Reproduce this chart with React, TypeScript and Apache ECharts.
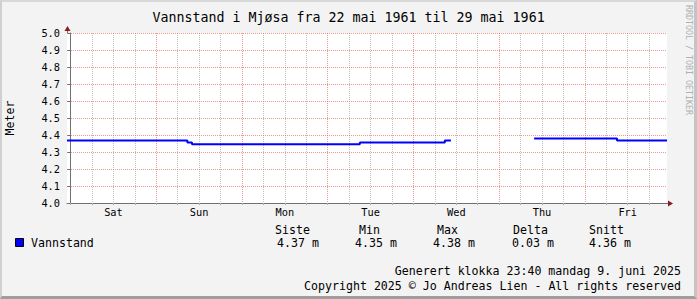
import React, { useEffect, useRef } from "react";
import * as echarts from "echarts";

// ---------- data ----------
const chartTitle = "Vannstand i Mjøsa fra 22 mai 1961 til 29 mai 1961";
const seriesName = "Vannstand";
const yAxisName = "Meter";
// corner points of the stepped water level, hours relative to the first midnight shown; null marks the data gap
const sampleHours = [-1, 32.7, 32.7, 34.0, 34.0, 81.0, 81.0, 104.8, 104.8, 106.5, 118, 129.8, 153.0, 153.0, 167];
const sampleLevels = [4.368, 4.368, 4.356, 4.356, 4.345, 4.345, 4.356, 4.356, 4.368, 4.368, null, 4.38, 4.38, 4.368, 4.368];
const dayLabels = ["Sat", "Sun", "Mon", "Tue", "Wed", "Thu", "Fri"];
const dayLabelHours = [12, 36, 60, 84, 108, 132, 156];
const tickHours = [0, 6, 12, 18, 24, 30, 36, 42, 48, 54, 60, 66, 72, 78, 84, 90, 96, 102, 108, 114, 120, 126, 132, 138, 144, 150, 156, 162];
const statHeaders = ["Siste", "Min", "Max", "Delta", "Snitt"];
const statValues = [4.37, 4.35, 4.38, 0.03, 4.36];
const statUnit = "m";
const footerLines = [
  "Generert klokka 23:40 mandag 9. juni 2025",
  "Copyright 2025 © Jo Andreas Lien - All rights reserved",
];
const watermark = "RRDTOOL / TOBI OETIKER";

// ---------- style ----------
const FONT = '"DejaVu Sans Mono", monospace';
const MAJOR = "rgba(230,80,80,0.6)";
const MINOR = "rgba(140,140,140,0.55)";
const AXIS = "#707070";
const ARROW = "#8b1c1c";

const GL = 67, GT = 33, GW = 600, GH = 170;

export default function App() {
  const ref = useRef<HTMLDivElement>(null);
  useEffect(() => {
    if (!ref.current) return;
    const chart = echarts.init(ref.current, null, { renderer: "svg" });
    const statHX = [275, 359, 437, 513, 589];
    const statVX = [277, 355, 433, 512, 589];
    const graphic: any[] = [
      { type: "line", shape: { x1: GL + 0.5, y1: GT, x2: GL + 0.5, y2: GT - 4 }, style: { stroke: AXIS, lineWidth: 1 } },
      { type: "line", shape: { x1: GL + GW, y1: GT + GH + 0.5, x2: GL + GW + 3, y2: GT + GH + 0.5 }, style: { stroke: AXIS, lineWidth: 1 } },
      { type: "polygon", shape: { points: [[GL - 2.5, GT - 2], [GL + 0.5, GT - 7], [GL + 3.5, GT - 2]] }, style: { fill: ARROW } },
      { type: "polygon", shape: { points: [[GL + GW + 1, GT + GH - 2.5], [GL + GW + 6, GT + GH + 0.5], [GL + GW + 1, GT + GH + 3.5]] }, style: { fill: ARROW } },
      {
        type: "text", x: 688.5, y: 60, rotation: -Math.PI / 2,
        style: { text: watermark, fill: "#b0b0b0", font: `8.3px ${FONT}`, textAlign: "center", textVerticalAlign: "middle" },
      },
      { type: "rect", shape: { x: 15.5, y: 238.5, width: 8, height: 8 }, style: { fill: "#0000ff", stroke: "#000", lineWidth: 1 } },
      { type: "text", x: 31, y: 243, style: { text: seriesName, fill: "#000", font: `11.6px ${FONT}`, textAlign: "left", textVerticalAlign: "middle" } },
    ];
    statHeaders.forEach((h, i) => {
      graphic.push({ type: "text", x: statHX[i], y: 229.5, style: { text: h, fill: "#000", font: `11.6px ${FONT}`, textAlign: "left", textVerticalAlign: "middle" } });
      graphic.push({ type: "text", x: statVX[i], y: 243, style: { text: `${statValues[i].toFixed(2)} ${statUnit}`, fill: "#000", font: `11.6px ${FONT}`, textAlign: "left", textVerticalAlign: "middle" } });
    });
    footerLines.forEach((t, i) => {
      graphic.push({ type: "text", x: 681, y: 271 + i * 14.5, style: { text: t, fill: "#000", font: `11.6px ${FONT}`, textAlign: "right", textVerticalAlign: "middle" } });
    });

    chart.setOption({
      animation: false,
      backgroundColor: "transparent",
      title: {
        text: chartTitle, left: "center", top: 6,
        textStyle: { fontFamily: FONT, fontSize: 13.3, fontWeight: "normal", color: "#000" },
      },
      grid: {
        left: GL, top: GT, width: GW, height: GH, show: true, backgroundColor: "#ffffff", borderWidth: 0,
        containLabel: false, outerBoundsMode: "none",
      },
      xAxis: {
        type: "value", min: -1, max: 167,
        axisLine: { show: true, onZero: false, lineStyle: { color: AXIS } },
        axisTick: { show: true, customValues: tickHours, length: 2, lineStyle: { color: "#b0b0b0" } },
        axisLabel: {
          customValues: dayLabelHours,
          formatter: (v: number) => dayLabels[Math.round((v - 12) / 24)] ?? "",
          fontFamily: FONT, fontSize: 10.3, color: "#000", margin: 4,
        },
        splitLine: { show: true, lineStyle: { color: [MAJOR, MINOR, MINOR, MINOR], type: [1, 1], width: 1 } },
      },
      yAxis: {
        type: "value", min: 4, max: 5, interval: 0.1,
        name: yAxisName, nameLocation: "middle", nameGap: 51,
        nameTextStyle: { fontFamily: FONT, fontSize: 11.6, color: "#000" },
        axisLine: { show: true, lineStyle: { color: AXIS } },
        axisTick: { show: true, length: 3, lineStyle: { color: AXIS } },
        axisLabel: { formatter: (v: number) => v.toFixed(1), fontFamily: FONT, fontSize: 10.3, color: "#000", margin: 7 },
        splitLine: { show: true, lineStyle: { color: MAJOR, type: [1, 1], width: 1 } },
      },
      series: [
        {
          type: "line", name: seriesName, z: 3,
          data: sampleHours.map((h, i) => [h, sampleLevels[i]]),
          symbol: "none", showSymbol: false, connectNulls: false,
          lineStyle: { color: "#0000ff", width: 2 },
        },
      ],
      graphic,
    });
    return () => chart.dispose();
  }, []);

  return (
    <div style={{ position: "fixed", left: 0, top: 0, width: 697, height: 299, background: "#f3f3f3" }}>
      <div ref={ref} style={{ position: "absolute", left: 0, top: 0, width: 697, height: 299 }} />
      <div
        style={{
          position: "absolute", left: 0, top: 0, width: 697, height: 299, boxSizing: "border-box", pointerEvents: "none",
          borderLeft: "2px solid #d0d0d0", borderTop: "2px solid #d8d8d8", borderRight: "3px solid #c4c4c4", borderBottom: "3px solid #9e9e9e",
        }}
      />
    </div>
  );
}
